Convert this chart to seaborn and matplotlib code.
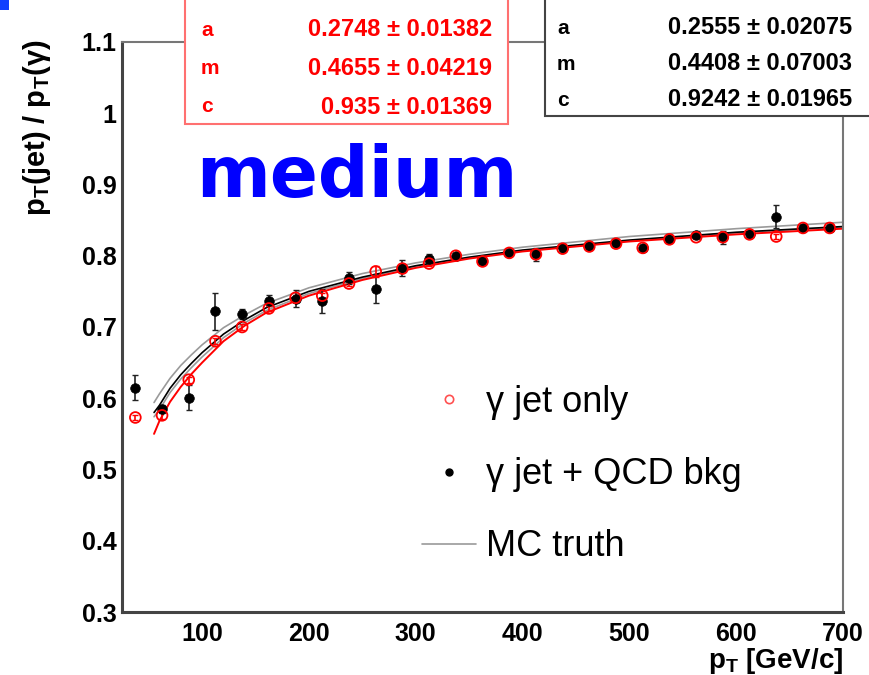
import matplotlib
matplotlib.use('Agg')
import matplotlib.pyplot as plt
import seaborn as sns
from matplotlib.patches import Rectangle
from matplotlib.lines import Line2D
from matplotlib.ticker import MultipleLocator

# --- data ---
pt = [37.5, 62.5, 87.5, 112.5, 137.5, 162.5, 187.5, 212.5, 237.5, 262.5,
      287.5, 312.5, 337.5, 362.5, 387.5, 412.5, 437.5, 462.5, 487.5, 512.5,
      537.5, 562.5, 587.5, 612.5, 637.5, 662.5, 687.5]

gj_only = [0.573, 0.576, 0.626, 0.680, 0.700, 0.726, 0.741, 0.744, 0.761, 0.778,
           0.782, 0.789, 0.800, 0.792, 0.804, 0.802, 0.810, 0.813, 0.817, 0.811,
           0.823, 0.826, 0.826, 0.830, 0.827, 0.839, 0.839]
gj_only_err = [0.004, 0.005, 0.004, 0.004, 0.004, 0.004, 0.004, 0.004, 0.004, 0.008,
               0.004, 0.004, 0.003, 0.003, 0.003, 0.003, 0.003, 0.003, 0.003, 0.003,
               0.003, 0.003, 0.003, 0.003, 0.003, 0.003, 0.003]

gj_qcd = [0.615, 0.585, 0.601, 0.722, 0.718, 0.737, 0.740, 0.737, 0.769, 0.754,
          0.783, 0.796, 0.800, 0.793, 0.804, 0.802, 0.811, 0.814, 0.818, 0.811,
          0.824, 0.829, 0.826, 0.831, 0.855, 0.839, 0.839]
gj_qcd_err = [0.018, 0.006, 0.017, 0.026, 0.007, 0.008, 0.012, 0.017, 0.008, 0.020,
              0.011, 0.006, 0.004, 0.005, 0.004, 0.009, 0.005, 0.005, 0.005, 0.003,
              0.006, 0.004, 0.009, 0.004, 0.016, 0.004, 0.004]

fit_x = [55, 60, 70, 80, 90, 100, 120, 140, 160, 200, 250, 300, 350, 400, 500, 600, 700]
fit_only = [0.550, 0.568, 0.595, 0.616, 0.634, 0.650, 0.680, 0.702, 0.720, 0.744,
            0.766, 0.783, 0.796, 0.806, 0.820, 0.830, 0.838]
fit_qcd = [0.580, 0.590, 0.614, 0.633, 0.649, 0.664, 0.690, 0.710, 0.727, 0.750,
           0.770, 0.786, 0.798, 0.808, 0.822, 0.833, 0.841]
truth_hi = [0.594, 0.606, 0.628, 0.646, 0.661, 0.675, 0.699, 0.717, 0.733, 0.755,
            0.775, 0.790, 0.802, 0.812, 0.827, 0.838, 0.847]
truth_lo = [0.574, 0.584, 0.608, 0.627, 0.643, 0.658, 0.685, 0.706, 0.723, 0.747,
            0.768, 0.785, 0.797, 0.807, 0.821, 0.832, 0.840]

fit_only_pars = [('a', '0.2748 \u00b1 0.01382'), ('m', '0.4655 \u00b1 0.04219'), ('c', '0.935 \u00b1 0.01369')]
fit_qcd_pars = [('a', '0.2555 \u00b1 0.02075'), ('m', '0.4408 \u00b1 0.07003'), ('c', '0.9242 \u00b1 0.01965')]

W, H = 870, 675
def fx(px): return px / W
def fy(py): return 1 - py / H

sns.set_style('white')
plt.rcParams['font.family'] = ['Liberation Sans', 'DejaVu Sans']
plt.rcParams['mathtext.fontset'] = 'custom'
plt.rcParams['mathtext.rm'] = 'Liberation Sans'
plt.rcParams['mathtext.bf'] = 'Liberation Sans:bold'
for key in ['text.color', 'axes.labelcolor', 'xtick.labelcolor', 'ytick.labelcolor']:
    plt.rcParams[key] = 'black'

fig = plt.figure(figsize=(8.7, 6.75), dpi=100)
ax = fig.add_axes([fx(122), fy(612), fx(843) - fx(122), fy(42) - fy(612)])

# MC truth band lines, then the two fits
sns.lineplot(x=fit_x, y=truth_hi, ax=ax, color='#9a9a9a', lw=1.2, sort=False, estimator=None)
sns.lineplot(x=fit_x, y=truth_lo, ax=ax, color='#9a9a9a', lw=1.2, sort=False, estimator=None)
sns.lineplot(x=fit_x, y=fit_qcd, ax=ax, color='black', lw=1.2, sort=False, estimator=None)
sns.lineplot(x=fit_x, y=fit_only, ax=ax, color='red', lw=1.4, sort=False, estimator=None)

ax.errorbar(pt, gj_qcd, yerr=gj_qcd_err, fmt='none', ecolor='#222222', elinewidth=1.2, capsize=2)
ax.errorbar(pt, gj_only, yerr=gj_only_err, fmt='none', ecolor='red', elinewidth=1.2, capsize=2)
sns.scatterplot(x=pt, y=gj_qcd, ax=ax, color='black', s=48, edgecolor='black', linewidth=0.5, zorder=4)
sns.scatterplot(x=pt, y=gj_only, ax=ax, facecolor='none', edgecolor='red', s=60, linewidth=1.3, zorder=5)

ax.set_xlim(25, 700)
ax.set_ylim(0.3, 1.1)
ax.xaxis.set_major_locator(MultipleLocator(100))
ax.xaxis.set_minor_locator(MultipleLocator(20))
ax.yaxis.set_minor_locator(MultipleLocator(0.02))
ax.set_yticks([0.3, 0.4, 0.5, 0.6, 0.7, 0.8, 0.9, 1.0, 1.1])
ax.set_yticklabels(['0.3', '0.4', '0.5', '0.6', '0.7', '0.8', '0.9', '1', '1.1'])
ax.tick_params(axis='both', which='major', direction='in', length=20, width=1.2,
               color='#333333', labelcolor='black', labelsize=18, pad=4)
ax.tick_params(axis='both', which='minor', direction='in', length=10, width=1.0, color='#333333')
ax.tick_params(axis='x', pad=7)
for lab in ax.get_xticklabels() + ax.get_yticklabels():
    lab.set_fontweight('bold')

for side in ['left', 'bottom']:
    ax.spines[side].set_color('#444444')
    ax.spines[side].set_linewidth(2.2)
for side in ['top', 'right']:
    ax.spines[side].set_color('#777777')
    ax.spines[side].set_linewidth(1.5)

fig.text(fx(37), fy(40), 'p$_\\mathbf{T}$(jet) / p$_\\mathbf{T}$(\u03b3)', rotation=90,
         ha='center', va='top', fontsize=21, fontweight='bold')
fig.text(fx(843), fy(646), 'p$_\\mathbf{T}$ [GeV/c]', ha='right', va='top',
         fontsize=20, fontweight='bold')

fig.text(fx(196), fy(197), 'medium', color='#0000ff', fontsize=51, fontweight='bold',
         family='DejaVu Sans', ha='left', va='baseline')

# fit parameter boxes
fig.patches.append(Rectangle((fx(185), fy(124)), fx(508) - fx(185), fy(-5) - fy(124),
                             transform=fig.transFigure, facecolor='white',
                             edgecolor='#ff7070', lw=1.5, zorder=10))
fig.patches.append(Rectangle((fx(545), fy(116)), fx(880) - fx(545), fy(-5) - fy(116),
                             transform=fig.transFigure, facecolor='white',
                             edgecolor='#444444', lw=1.5, zorder=10))
for i, (name, val) in enumerate(fit_only_pars):
    yy = fy(30 + i * 38.5)
    fig.text(fx(201), yy, name, color='red', fontsize=15, fontweight='bold', va='center', zorder=11)
    fig.text(fx(492), yy, val, color='red', fontsize=17, fontweight='bold', va='center', ha='right', zorder=11)
for i, (name, val) in enumerate(fit_qcd_pars):
    yy = fy(28 + i * 36)
    fig.text(fx(557), yy, name, color='black', fontsize=15, fontweight='bold', va='center', zorder=11)
    fig.text(fx(852), yy, val, color='black', fontsize=17, fontweight='bold', va='center', ha='right', zorder=11)

fig.patches.append(Rectangle((0, fy(10)), fx(9), fy(0) - fy(10), transform=fig.transFigure,
                             facecolor='#1040ff', edgecolor='none', zorder=12))

handles = [Line2D([], [], ls='none', marker='o', mfc='none', mec='#ff5050', ms=6, mew=1.2),
           Line2D([], [], ls='none', marker='o', color='black', ms=5),
           Line2D([], [], color='#9a9a9a', lw=1.2)]
ax.legend(handles, ['\u03b3 jet only', '\u03b3 jet + QCD bkg', 'MC truth'],
          loc='upper left', bbox_to_anchor=(fx(404), fy(367)), bbox_transform=fig.transFigure,
          frameon=False, fontsize=26, borderpad=0, labelspacing=1.03,
          handlelength=1.5, handletextpad=0.28, labelcolor='black')

fig.savefig('out.png', dpi=100)
